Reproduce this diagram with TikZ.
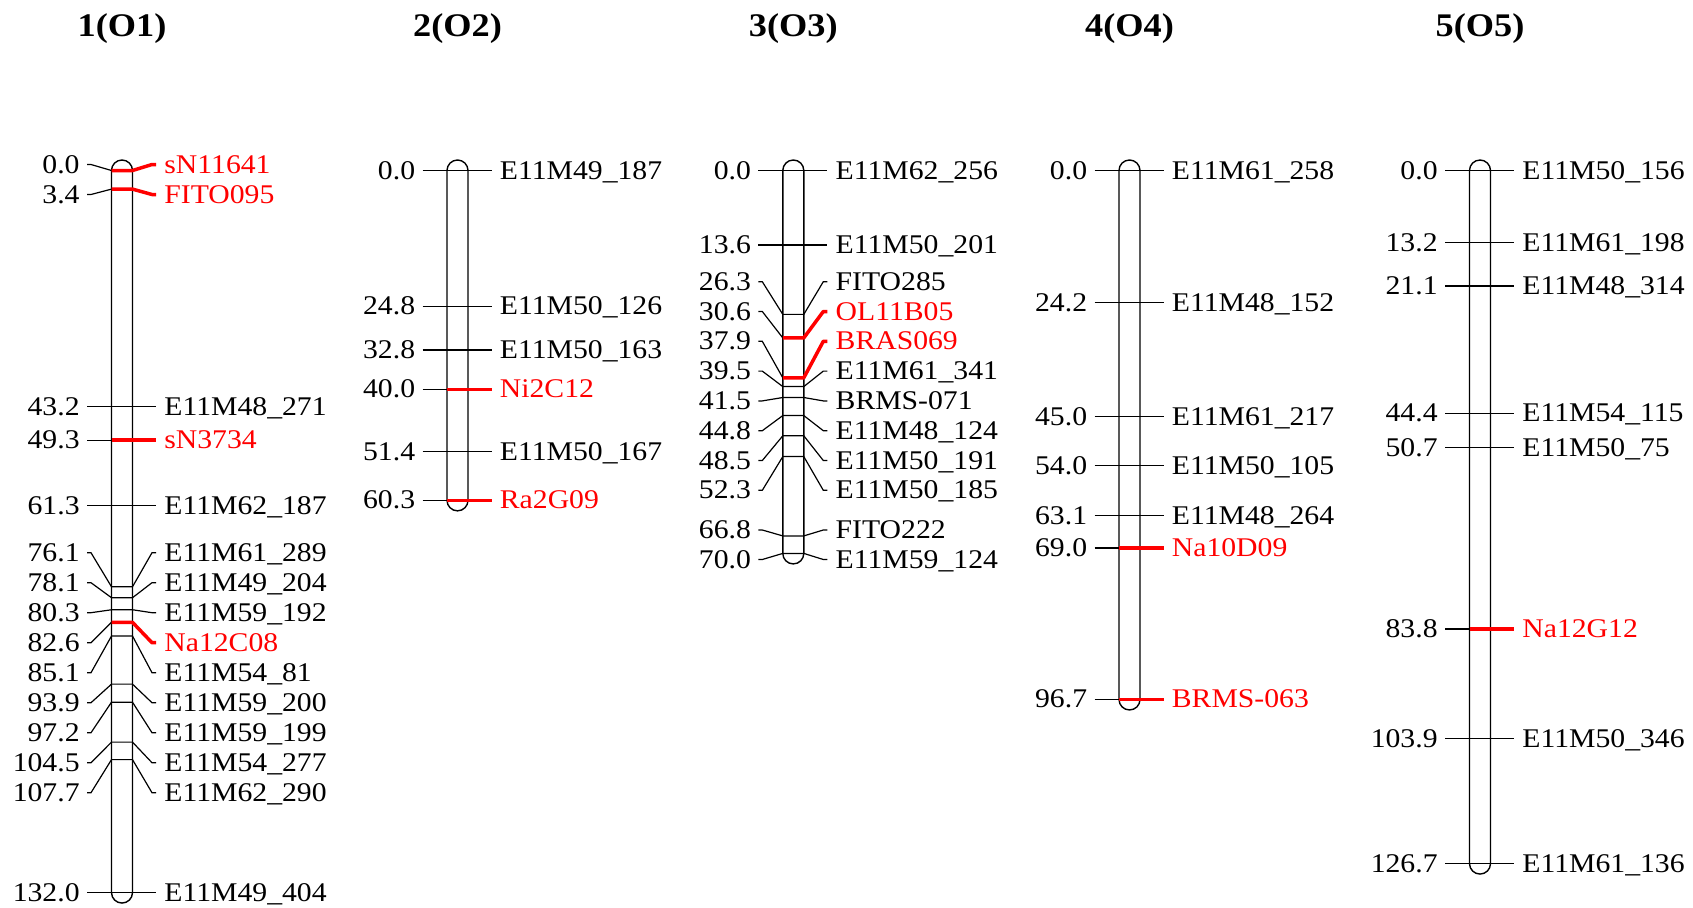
\documentclass[tikz,border=0pt]{standalone}
\usepackage{fontspec}
\setmainfont{Liberation Serif}[FakeStretch=1.1]
\tikzset{
  numlab/.style={anchor=east, inner sep=0pt, text height=8.5pt, text depth=0pt, font=\fontsize{13.5}{16}\selectfont},
  mklab/.style={anchor=west, inner sep=0pt, text height=8.5pt, text depth=0pt, font=\fontsize{13.5}{16}\selectfont},
  ttl/.style={font=\fontsize{16.5}{20}\selectfont\bfseries, inner sep=0pt},
  tk/.style={line width=0.6pt, black},
  redtk/.style={line width=1.75pt, red},
  bar/.style={line width=0.7pt, rounded corners=5.25pt},
}
% straight black marker: #1 cx, #2 cM, #3 name, #4 id
\newcommand{\mrkB}[4]{%
  \pgfmathsetmacro{\ay}{170.5+5.47*#2}%
  \coordinate (a#4) at (#1-35,\ay);
  \coordinate (d#4) at (#1+34,\ay);
  \node[numlab] (n#4) at (#1-42,\ay) {#2};
  \node[mklab] (m#4) at (#1+42,\ay) {#3};
  \draw[tk] (a#4) -- (d#4);
}
% straight red marker
\newcommand{\mrkR}[4]{%
  \pgfmathsetmacro{\ay}{170.5+5.47*#2}%
  \coordinate (a#4) at (#1-35,\ay);
  \coordinate (b#4) at (#1-10.5,\ay);
  \coordinate (d#4) at (#1+34,\ay);
  \node[numlab] (n#4) at (#1-42,\ay) {#2};
  \node[mklab, text=red] (m#4) at (#1+42,\ay) {#3};
  \draw[tk] (a#4) -- (b#4);
  \draw[redtk] (b#4) -- (d#4);
}
% displaced black marker: #1 cx, #2 cM, #3 label y, #4 name, #5 id
\newcommand{\mrkD}[5]{%
  \pgfmathsetmacro{\ay}{170.5+5.47*#2}%
  \coordinate (a#5) at (#1-35,#3);
  \coordinate (e#5) at (#1-31,#3);
  \coordinate (b#5) at (#1-10.5,\ay);
  \coordinate (c#5) at (#1+10.5,\ay);
  \coordinate (f#5) at (#1+30,#3);
  \coordinate (d#5) at (#1+34,#3);
  \node[numlab] (n#5) at (#1-42,#3) {#2};
  \node[mklab] (m#5) at (#1+42,#3) {#4};
  \draw[tk] (a#5) -- (e#5) -- (b#5) -- (c#5) -- (f#5) -- (d#5);
}
% displaced red marker
\newcommand{\mrkDR}[5]{%
  \pgfmathsetmacro{\ay}{170.5+5.47*#2}%
  \coordinate (a#5) at (#1-35,#3);
  \coordinate (e#5) at (#1-31,#3);
  \coordinate (b#5) at (#1-10.5,\ay);
  \coordinate (c#5) at (#1+10.5,\ay);
  \coordinate (f#5) at (#1+30,#3);
  \coordinate (d#5) at (#1+34,#3);
  \node[numlab] (n#5) at (#1-42,#3) {#2};
  \node[mklab, text=red] (m#5) at (#1+42,#3) {#4};
  \draw[tk] (a#5) -- (e#5) -- (b#5);
  \draw[redtk, line join=round] (b#5) -- (c#5) -- (f#5) -- (d#5);
}
% chromosome bar: #1 cx, #2 length cM, #3 id
\newcommand{\chrbar}[3]{%
  \pgfmathsetmacro{\by}{170.5+5.47*#2+10.5}%
  \draw[bar] (#1-10.5,160) rectangle (#1+10.5,\by);
}
\begin{document}
\begin{tikzpicture}[x=0.5pt,y=-0.5pt]
\useasboundingbox (0,0) rectangle (1693,907);
\fill[white] (0,0) rectangle (1693,907);

% titles
\node[ttl] (t1) at (122,28.5) {1(O1)};
\node[ttl] (t2) at (457.5,28.5) {2(O2)};
\node[ttl] (t3) at (793.3,28.5) {3(O3)};
\node[ttl] (t4) at (1129.5,28.5) {4(O4)};
\node[ttl] (t5) at (1480,28.5) {5(O5)};

% bars
\chrbar{122}{132.0}{1}
\chrbar{457.5}{60.3}{2}
\chrbar{793.3}{70.0}{3}
\chrbar{1129.5}{96.7}{4}
\chrbar{1480}{126.7}{5}

% chromosome 1
\mrkDR{122}{0.0}{164.5}{sN11641}{c1a}
\mrkDR{122}{3.4}{194.5}{FITO095}{c1b}
\mrkB{122}{43.2}{E11M48\_271}{c1c}
\mrkR{122}{49.3}{sN3734}{c1d}
\mrkB{122}{61.3}{E11M62\_187}{c1e}
\mrkD{122}{76.1}{552.7}{E11M61\_289}{c1f}
\mrkD{122}{78.1}{582.7}{E11M49\_204}{c1g}
\mrkD{122}{80.3}{612.7}{E11M59\_192}{c1h}
\mrkDR{122}{82.6}{642.7}{Na12C08}{c1i}
\mrkD{122}{85.1}{672.7}{E11M54\_81}{c1j}
\mrkD{122}{93.9}{702.7}{E11M59\_200}{c1k}
\mrkD{122}{97.2}{732.7}{E11M59\_199}{c1l}
\mrkD{122}{104.5}{762.7}{E11M54\_277}{c1m}
\mrkD{122}{107.7}{792.7}{E11M62\_290}{c1n}
\mrkB{122}{132.0}{E11M49\_404}{c1o}

% chromosome 2
\mrkB{457.5}{0.0}{E11M49\_187}{c2a}
\mrkB{457.5}{24.8}{E11M50\_126}{c2b}
\mrkB{457.5}{32.8}{E11M50\_163}{c2c}
\mrkR{457.5}{40.0}{Ni2C12}{c2d}
\mrkB{457.5}{51.4}{E11M50\_167}{c2e}
\mrkR{457.5}{60.3}{Ra2G09}{c2f}

% chromosome 3
\mrkB{793.3}{0.0}{E11M62\_256}{c3a}
\mrkB{793.3}{13.6}{E11M50\_201}{c3b}
\mrkD{793.3}{26.3}{281.7}{FITO285}{c3c}
\mrkDR{793.3}{30.6}{311.5}{OL11B05}{c3d}
\mrkDR{793.3}{37.9}{341.3}{BRAS069}{c3e}
\mrkD{793.3}{39.5}{371.1}{E11M61\_341}{c3f}
\mrkD{793.3}{41.5}{400.9}{BRMS-071}{c3g}
\mrkD{793.3}{44.8}{430.7}{E11M48\_124}{c3h}
\mrkD{793.3}{48.5}{460.5}{E11M50\_191}{c3i}
\mrkD{793.3}{52.3}{490.3}{E11M50\_185}{c3j}
\mrkD{793.3}{66.8}{530.0}{FITO222}{c3k}
\mrkD{793.3}{70.0}{559.5}{E11M59\_124}{c3l}

% chromosome 4
\mrkB{1129.5}{0.0}{E11M61\_258}{c4a}
\mrkB{1129.5}{24.2}{E11M48\_152}{c4b}
\mrkB{1129.5}{45.0}{E11M61\_217}{c4c}
\mrkB{1129.5}{54.0}{E11M50\_105}{c4d}
\mrkB{1129.5}{63.1}{E11M48\_264}{c4e}
\mrkR{1129.5}{69.0}{Na10D09}{c4f}
\mrkR{1129.5}{96.7}{BRMS-063}{c4g}

% chromosome 5
\mrkB{1480}{0.0}{E11M50\_156}{c5a}
\mrkB{1480}{13.2}{E11M61\_198}{c5b}
\mrkB{1480}{21.1}{E11M48\_314}{c5c}
\mrkB{1480}{44.4}{E11M54\_115}{c5d}
\mrkB{1480}{50.7}{E11M50\_75}{c5e}
\mrkR{1480}{83.8}{Na12G12}{c5f}
\mrkB{1480}{103.9}{E11M50\_346}{c5g}
\mrkB{1480}{126.7}{E11M61\_136}{c5h}
\end{tikzpicture}
\end{document}
